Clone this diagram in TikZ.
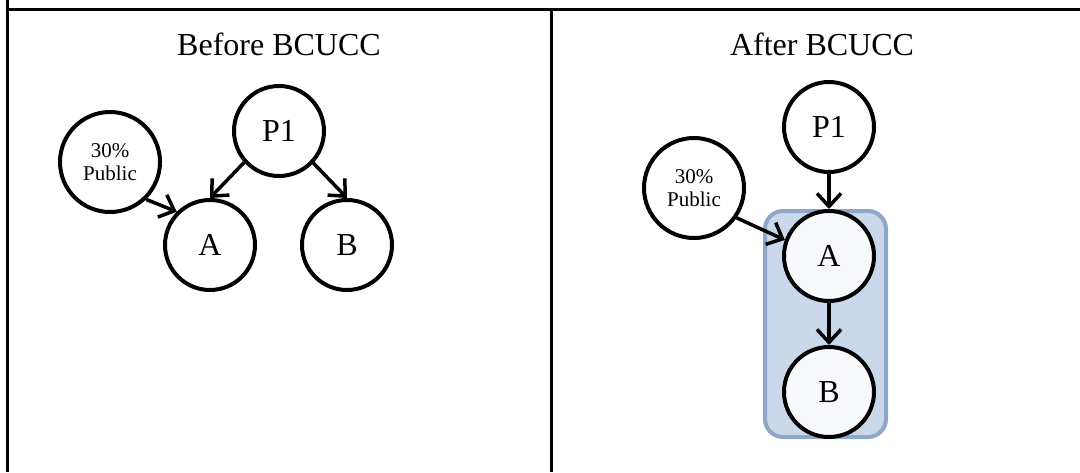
\documentclass[tikz,border=0pt]{standalone}
\usepackage{fontspec}
\setmainfont{Liberation Serif}
\usetikzlibrary{arrows.meta}
\definecolor{boxfill}{HTML}{C9D8EB}
\definecolor{boxline}{HTML}{8EA7C7}
\definecolor{nodefill}{HTML}{F8F9FC}

\begin{document}
\begin{tikzpicture}[x=1pt,y=-1pt,
    state/.style={circle,draw,line width=4pt,minimum size=90pt,inner sep=0pt,font=\fontsize{32}{38}\selectfont},
    pub/.style={state,minimum size=100pt,align=center,font=\fontsize{21}{23}\selectfont},
    arr/.style={line width=3.5pt,-{Straight Barb[length=13pt,width=24pt]}},
    title/.style={anchor=base,font=\fontsize{32}{38}\selectfont}]
    \useasboundingbox (0,0) rectangle (1080,472);
    % table
    \draw[line width=3pt] (7,0)--(7,472);
    \draw[line width=3pt] (7,9)--(1080,9);
    \draw[line width=3pt] (551,9)--(551,472);
    % before
    \node[title] (tbefore) at (279,55) {Before BCUCC};
    \node[pub] (pubL) at (110,162) {30\%\\Public};
    \node[state] (p1L) at (279,131) {P1};
    \node[state] (aL) at (210,245) {A};
    \node[state] (bL) at (347,245) {B};
    \draw[arr] (pubL.314) -- (aL.135);
    \draw[arr] (p1L.222) -- (aL.north);
    \draw[arr] (p1L.317) -- (bL.north);
    % after
    \node[title] (tafter) at (822,55) {After BCUCC};
    \draw[boxline,fill=boxfill,line width=4pt,rounded corners=18pt] (765,211) rectangle (886,437);
    \node[pub] (pubR) at (694,188) {30\%\\Public};
    \node[state] (p1R) at (829,127) {P1};
    \node[state,fill=nodefill] (aR) at (829,256) {A};
    \node[state,fill=nodefill] (bR) at (829,392) {B};
    \draw[arr] (p1R.south) -- (aR.north);
    \draw[arr] (aR.south) -- (bR.north);
    \draw[arr] (pubR.325) -- (aR.160);
\end{tikzpicture}
\end{document}
